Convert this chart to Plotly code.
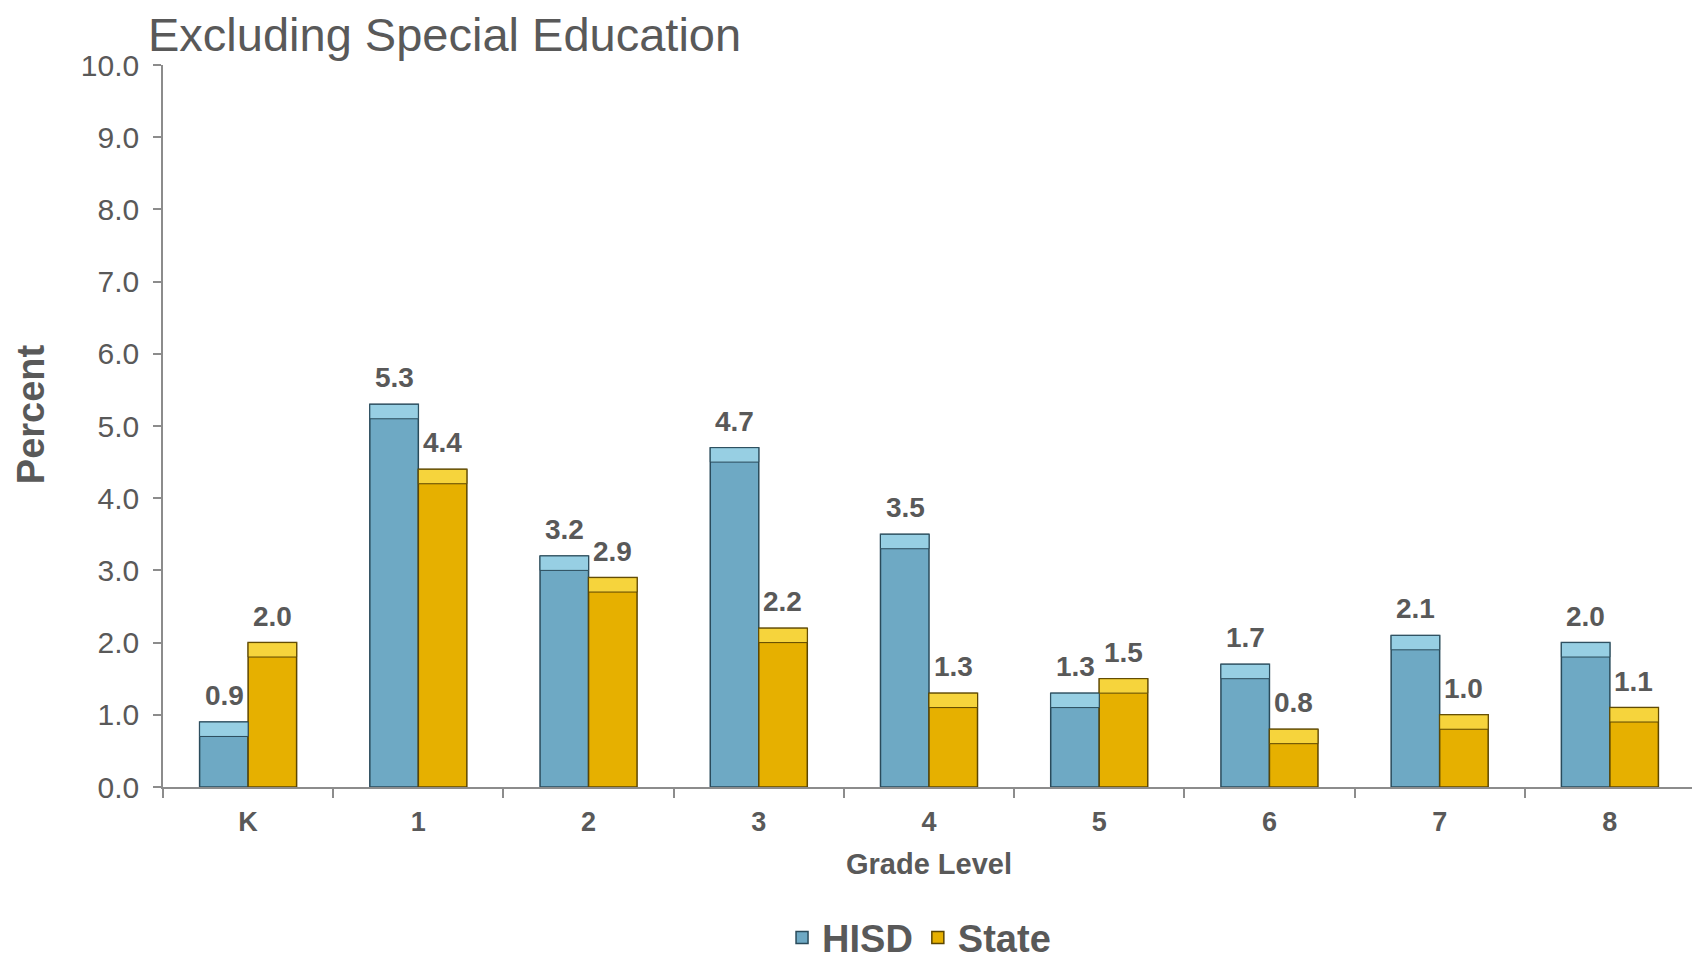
import plotly.graph_objects as go

grades = ["K", "1", "2", "3", "4", "5", "6", "7", "8"]
hisd = [0.9, 5.3, 3.2, 4.7, 3.5, 1.3, 1.7, 2.1, 2.0]
state = [2.0, 4.4, 2.9, 2.2, 1.3, 1.5, 0.8, 1.0, 1.1]
y_ticks = [0, 1, 2, 3, 4, 5, 6, 7, 8, 9, 10]
y_ticktext = [f"{v:.1f}" for v in y_ticks]

FONT = "Liberation Sans, Arial, sans-serif"
GREY = "#595959"
AXIS = "#8c8c8c"
CAP = 0.2

series = [
    ("HISD", hisd, "#6ea9c4", "#97cfe3", "#2a4b5b", "h"),
    ("State", state, "#e6b000", "#f6d43c", "#5c4600", "s"),
]

fig = go.Figure()
for name, vals, col, capcol, edge, grp in series:
    fig.add_trace(go.Bar(
        x=grades, y=vals, name=name, offsetgroup=grp,
        marker=dict(color=col, line=dict(color=edge, width=1.5)),
        hoverinfo="skip",
    ))
for name, vals, col, capcol, edge, grp in series:
    fig.add_trace(go.Bar(
        x=grades, y=[CAP] * len(vals), base=[v - CAP for v in vals],
        offsetgroup=grp, showlegend=False,
        marker=dict(color=capcol, line=dict(color=edge, width=1)),
        hoverinfo="skip",
    ))

# data labels
for (name, vals, *_), shift in zip(series, (-24, 24)):
    for g, v in zip(grades, vals):
        fig.add_annotation(
            x=g, y=v, xref="x", yref="y", text=f"<b>{v:.1f}</b>",
            showarrow=False, yanchor="bottom", xshift=shift, yshift=9,
            font=dict(family=FONT, size=28, color=GREY),
        )

# y-axis title (placed slightly above the plot centre, as in the original)
fig.add_annotation(
    x=-0.0865, y=0.517, xref="paper", yref="paper", text="<b>Percent</b>",
    textangle=-90, showarrow=False, xanchor="center", yanchor="middle",
    font=dict(family=FONT, size=38, color=GREY),
)

fig.update_layout(
    width=1692, height=951,
    margin=dict(l=155, r=5, t=57, b=172, autoexpand=False),
    paper_bgcolor="white", plot_bgcolor="white",
    barmode="group", bargap=0.43, bargroupgap=0,
    font=dict(family=FONT, color=GREY),
    title=dict(
        text="Excluding Special Education",
        font=dict(family=FONT, size=47, color=GREY),
        xref="container", yref="container",
        x=140 / 1692, xanchor="left", y=1 - 27 / 951, yanchor="middle",
    ),
    showlegend=True,
    legend=dict(
        orientation="h", x=0.4935, xanchor="center",
        y=-0.209, yanchor="middle",
        font=dict(family=FONT, size=38, color=GREY, weight="bold"),
        itemwidth=30, tracegroupgap=0,
    ),
    xaxis=dict(
        type="category", tickson="boundaries", automargin=False,
        showline=True, linecolor=AXIS, linewidth=1.5,
        ticks="outside", ticklen=9, tickcolor=AXIS, tickwidth=1.5,
        tickfont=dict(family=FONT, size=27, color=GREY, weight="bold"),
        ticklabelstandoff=10,
        title=dict(text="<b>Grade Level</b>", standoff=18,
                   font=dict(family=FONT, size=29, color=GREY)),
        showgrid=False, zeroline=False,
    ),
    yaxis=dict(
        range=[0, 10], tickvals=y_ticks, ticktext=y_ticktext, automargin=False,
        showline=True, linecolor=AXIS, linewidth=1.5,
        ticks="outside", ticklen=8, tickcolor=AXIS, tickwidth=1.5,
        tickfont=dict(family=FONT, size=30, color=GREY),
        ticklabelstandoff=8,
        showgrid=False, zeroline=False,
    ),
)

fig.write_html("out.html")
